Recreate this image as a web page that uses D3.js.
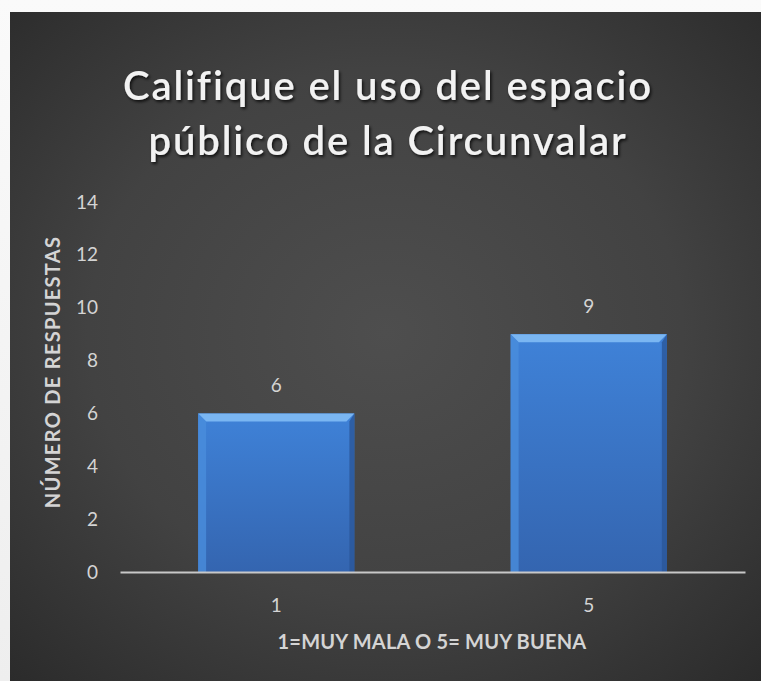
<!DOCTYPE html>
<html>
<head>
<meta charset="utf-8">
<script src="https://cdn.jsdelivr.net/npm/d3@7/dist/d3.min.js"></script>
<style>
  html, body { margin: 0; padding: 0; background: #f2f2f2; }
  svg { display: block; }
</style>
</head>
<body>
<svg id="chart" width="761" height="681"></svg>
<script>
// Survey: rating of the public space along the Circunvalar
const categories = ["1", "5"];
const responses = [6, 9];
const yTicks = [0, 2, 4, 6, 8, 10, 12, 14];
const titleLines = ["Califique el uso del espacio", "público de la Circunvalar"];
const yTitle = "NÚMERO DE RESPUESTAS";
const xTitle = "1=MUY MALA O 5= MUY BUENA";

const W = 761, H = 681;
const panel = { x: 10, y: 12 };
const plot = { left: 120, right: 745, top: 202, bottom: 572 };
const FONT = "Lato, 'Open Sans', sans-serif";
const LABEL = "#d4d4d4";

const svg = d3.select("#chart");
const defs = svg.append("defs");

// outer page backdrop
const bgGrad = defs.append("linearGradient").attr("id", "pageBg")
  .attr("x1", 0).attr("y1", 0).attr("x2", 0).attr("y2", 1);
bgGrad.append("stop").attr("offset", 0).attr("stop-color", "#fafafa");
bgGrad.append("stop").attr("offset", 1).attr("stop-color", "#eeeeee");
svg.append("rect").attr("width", W).attr("height", H).attr("fill", "url(#pageBg)");

// dark panel with radial glow
const panelGrad = defs.append("radialGradient").attr("id", "panelBg")
  .attr("cx", "50%").attr("cy", "48%").attr("r", "72%");
panelGrad.append("stop").attr("offset", 0).attr("stop-color", "#4e4e4e");
panelGrad.append("stop").attr("offset", 0.55).attr("stop-color", "#424242");
panelGrad.append("stop").attr("offset", 1).attr("stop-color", "#2b2b2b");
svg.append("rect")
  .attr("x", panel.x).attr("y", panel.y)
  .attr("width", W - panel.x).attr("height", H - panel.y)
  .attr("fill", "url(#panelBg)");

// text shadow
const shadow = defs.append("filter").attr("id", "txtShadow")
  .attr("x", "-10%").attr("y", "-30%").attr("width", "120%").attr("height", "160%");
shadow.append("feDropShadow").attr("dx", 1.5).attr("dy", 2).attr("stdDeviation", 1.5)
  .attr("flood-color", "#000").attr("flood-opacity", 0.75);

// bar fill gradient
const barGrad = defs.append("linearGradient").attr("id", "barFill")
  .attr("x1", 0).attr("y1", 0).attr("x2", 0).attr("y2", 1);
barGrad.append("stop").attr("offset", 0).attr("stop-color", "#3f82d8");
barGrad.append("stop").attr("offset", 1).attr("stop-color", "#3465b0");

// scales
const x = d3.scaleBand().domain(categories)
  .range([plot.left, plot.right]).paddingInner(0.5).paddingOuter(0.25);
const y = d3.scaleLinear().domain([0, 14]).range([plot.bottom, plot.top]);

// title
const title = svg.append("g").attr("filter", "url(#txtShadow)");
title.selectAll("text").data(titleLines).join("text")
  .attr("x", 388).attr("y", (d, i) => 100 + i * 55)
  .attr("text-anchor", "middle")
  .attr("font-family", FONT)
  .attr("font-size", 40).attr("font-weight", 600)
  .attr("letter-spacing", 1.9)
  .attr("fill", "#f2f2f2")
  .text(d => d);

// y axis tick labels
const yAxis = d3.axisLeft(y).tickValues(yTicks).tickSize(0).tickPadding(0);
const gy = svg.append("g").attr("transform", `translate(98,0)`).call(yAxis);
gy.select(".domain").remove();
gy.selectAll("text")
  .attr("font-family", FONT)
  .attr("font-size", 19).attr("fill", LABEL);

// y title
svg.append("text")
  .attr("transform", `translate(60,372) rotate(-90)`)
  .attr("text-anchor", "middle")
  .attr("font-family", FONT)
  .attr("font-size", 20).attr("font-weight", "bold")
  .attr("letter-spacing", 1.3)
  .attr("fill", LABEL)
  .text(yTitle);

// bars with bevel
const bevel = 8;
const bars = svg.append("g");
categories.forEach((c, i) => {
  const x0 = x(c), x1 = x(c) + x.bandwidth();
  const y0 = y(responses[i]), y1 = y(0);
  const g = bars.append("g");
  g.append("rect").attr("x", x0).attr("y", y0)
    .attr("width", x1 - x0).attr("height", y1 - y0).attr("fill", "url(#barFill)");
  // top facet
  g.append("path").attr("d",
      `M${x0},${y0} L${x1},${y0} L${x1 - bevel},${y0 + bevel} L${x0 + bevel},${y0 + bevel} Z`)
    .attr("fill", "#7ab6f2");
  // left facet
  g.append("path").attr("d",
      `M${x0},${y0} L${x0 + bevel},${y0 + bevel} L${x0 + bevel},${y1} L${x0},${y1} Z`)
    .attr("fill", "#4a8ddc").attr("opacity", 0.8);
  // right facet
  g.append("path").attr("d",
      `M${x1},${y0} L${x1},${y1} L${x1 - 5},${y1} L${x1 - 5},${y0 + bevel} Z`)
    .attr("fill", "#2a5699").attr("opacity", 0.8);
  // value label
  svg.append("text")
    .attr("x", x(c) + x.bandwidth() / 2).attr("y", y0 - 21)
    .attr("text-anchor", "middle")
    .attr("font-family", FONT)
    .attr("font-size", 19).attr("fill", LABEL)
    .text(responses[i]);
});

// x axis
const xAxis = d3.axisBottom(x).tickSize(0).tickPadding(27);
const gx = svg.append("g").attr("transform", `translate(0,${plot.bottom})`).call(xAxis);
gx.select(".domain").attr("stroke", "#c8c8c8").attr("stroke-width", 2);
gx.selectAll("text")
  .attr("font-family", FONT)
  .attr("font-size", 19).attr("fill", LABEL);

// x title
svg.append("text")
  .attr("x", 432).attr("y", 649)
  .attr("text-anchor", "middle")
  .attr("font-family", FONT)
  .attr("font-size", 20).attr("font-weight", "bold")
  .attr("letter-spacing", 0.2)
  .attr("fill", LABEL)
  .text(xTitle);
</script>
</body>
</html>
